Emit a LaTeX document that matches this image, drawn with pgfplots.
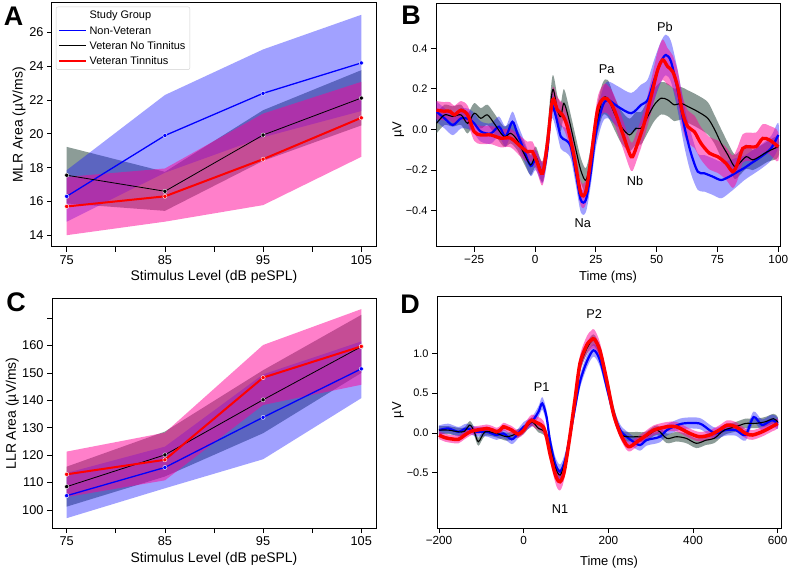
\documentclass[border=0pt]{standalone}
\usepackage{pgfplots}
\pgfplotsset{compat=1.18}
\usepackage{pgfplotstable}
\usepackage{fontspec}
\setmainfont{Liberation Sans}
\definecolor{cblue}{RGB}{0,0,255}
\definecolor{cband}{RGB}{20,20,255}
\definecolor{cpink}{RGB}{255,0,150}
\definecolor{cgray}{RGB}{45,75,65}
\definecolor{cred}{RGB}{255,0,0}
\newcommand\fLeg{\fontsize{11}{13}\selectfont}
\newcommand\lst{\rule[-2.6bp]{0pt}{11.2bp}}
\newcommand\fPk{\fontsize{12.8}{15}\selectfont}
\pgfplotsset{legend image code/.code={\draw[#1] (0bp,0bp) -- (27bp,0bp);}}

\pgfplotstableread{
x y e
-40.5 0.095 0.045
-37.5 0.09 0.045
-35 0.09 0.045
-33.2 0.072 0.045
-30.4 0.095 0.045
-27.7 0.072 0.045
-25 -0.011 0.045
-22.3 -0.027 0.045
-18.2 -0.027 0.045
-14.1 -0.043 0.045
-10 -0.043 0.045
-5.9 -0.084 0.05
-3.1 -0.11 0.05
-1.1 -0.109 0.05
1 -0.166 0.05
3.1 -0.216 0.06
5.1 -0.068 0.06
7.2 0.146 0.06
9.2 0.096 0.06
11.3 0.071 0.06
13.3 0.014 0.06
16.1 -0.134 0.06
18.8 -0.314 0.06
20.9 -0.306 0.06
22.9 -0.15 0.06
25.7 0.096 0.06
28.4 0.154 0.07
30.5 0.14 0.07
32.6 0.096 0.07
36 -0.019 0.07
38.8 -0.117 0.07
40.1 -0.134 0.07
42.2 -0.068 0.07
44.9 0.03 0.07
47.7 0.162 0.08
50.4 0.293 0.09
52.5 0.343 0.1
54.5 0.31 0.09
56.6 0.285 0.08
58.6 0.211 0.08
60.7 0.08 0.08
62.8 0.014 0.08
65.5 -0.011 0.08
68.2 -0.068 0.08
71.7 -0.117 0.08
75.1 -0.134 0.08
78.5 -0.167 0.08
81.3 -0.208 0.08
83.3 -0.167 0.08
85.4 -0.093 0.07
88.1 -0.085 0.07
90.9 -0.085 0.07
93.6 -0.044 0.07
96.4 -0.052 0.07
100 -0.085 0.07
}\Bred

\pgfplotstableread{
x y e
-40.5 0.088 0.05
-37.2 0.055 0.05
-33.8 0.022 0.05
-30.4 0.055 0.05
-27 0.05 0.05
-25 0.03 0.05
-22.3 -0.01 0.05
-18.2 -0.02 0.05
-14.8 0.014 0.05
-12.1 -0.035 0.05
-9.3 0.038 0.05
-7.3 -0.019 0.05
-4.6 -0.1 0.05
-1.8 -0.18 0.05
0.3 -0.15 0.05
3.1 -0.216 0.05
5.1 -0.1 0.05
6.8 0.113 0.06
8.6 0.063 0.06
10.6 -0.035 0.06
12.6 -0.052 0.06
14.7 -0.085 0.06
16.8 -0.216 0.06
18.8 -0.347 0.06
20.9 -0.347 0.06
22.9 -0.216 0.06
25 -0.02 0.07
27.7 0.113 0.08
29.9 0.146 0.09
34 0.113 0.1
39.5 0.08 0.1
43.6 0.121 0.1
46.3 0.146 0.1
49 0.244 0.1
51.8 0.334 0.1
53.8 0.367 0.1
55.9 0.334 0.1
58.6 0.195 0.1
61.4 0.014 0.1
64.1 -0.117 0.1
66.9 -0.208 0.09
69.6 -0.216 0.09
73 -0.232 0.09
76.5 -0.249 0.09
79.9 -0.232 0.08
83.3 -0.208 0.07
86 -0.19 0.06
88.8 -0.167 0.06
92.9 -0.134 0.06
97 -0.093 0.06
100 -0.027 0.06
}\Bblue

\pgfplotstableread{
x y e
-40.5 0.03 0.05
-37.2 0.072 0.05
-33.8 0.064 0.05
-30.4 0.072 0.05
-27.7 0.03 0.05
-25 0.08 0.05
-22.3 0.055 0.05
-19.6 0.072 0.05
-16.8 0.03 0.05
-12.8 -0.035 0.05
-10 -0.019 0.05
-7.3 -0.052 0.05
-4.6 -0.117 0.05
-1.8 -0.175 0.05
0.3 -0.134 0.05
3.1 -0.208 0.05
5.1 -0.052 0.06
7.2 0.195 0.07
9.2 0.096 0.07
10.6 0.063 0.07
11.9 0.129 0.07
14 0.047 0.06
16.8 -0.1 0.06
18.8 -0.2 0.06
20.9 -0.25 0.06
22.9 -0.15 0.06
25 0.014 0.07
27.7 0.146 0.08
29.9 0.154 0.09
32.6 0.08 0.08
35.4 0.014 0.08
38.8 -0.027 0.08
41.5 0.006 0.08
43.6 0.006 0.08
46.3 0.063 0.08
49 0.121 0.08
51.8 0.154 0.08
54.5 0.146 0.08
57.3 0.121 0.08
60 0.129 0.08
62.8 0.113 0.08
66.9 0.088 0.08
71 0.055 0.08
73.8 0.0 0.07
76.5 -0.068 0.07
79.3 -0.126 0.06
82 -0.183 0.06
84 -0.167 0.06
86.8 -0.134 0.06
89.5 -0.15 0.05
92.2 -0.134 0.05
95.6 -0.109 0.05
100 -0.085 0.05
}\Bblack

\pgfplotstableread{
x y e
-200 -0.027 0.05
-185 -0.06 0.05
-170 -0.075 0.05
-154 -0.08 0.05
-140 -0.03 0.05
-125 0.02 0.05
-111 0.036 0.05
-95 0.05 0.05
-87 0.057 0.05
-75 0.04 0.05
-64 0.015 0.05
-55 0.04 0.05
-48 0.078 0.05
-38 0.06 0.05
-28 0.036 0.05
-13 -0.014 0.05
0 0.036 0.05
10 0.12 0.06
19 0.16 0.07
27 0.14 0.08
35 0.12 0.08
46 0.078 0.08
54 -0.05 0.08
62 -0.257 0.09
74 -0.51 0.1
80 -0.59 0.11
86 -0.613 0.11
92 -0.56 0.1
98 -0.425 0.09
109 -0.047 0.08
121 0.413 0.09
133 0.874 0.1
149 1.105 0.11
160 1.17 0.12
167 1.18 0.12
180 1.04 0.1
196 0.665 0.08
212 0.246 0.07
228 -0.006 0.06
243 -0.152 0.06
252 -0.17 0.06
268 -0.11 0.06
290 -0.027 0.06
307 0.036 0.06
338 0.078 0.06
361 0.078 0.06
392 -0.005 0.06
415 -0.047 0.06
439 -0.026 0.06
462 0.036 0.06
481 0.1 0.06
501 0.078 0.06
524 -0.005 0.06
540 -0.026 0.06
563 0.015 0.06
586 0.078 0.06
600 0.12 0.06
}\Dred

\pgfplotstableread{
x y e
-200 0.036 0.06
-178 0.057 0.06
-154 0.015 0.06
-135 0.057 0.06
-111 0.015 0.06
-87 0.015 0.06
-64 -0.027 0.06
-48 -0.006 0.06
-28 -0.08 0.06
-13 -0.006 0.06
0 0.078 0.06
19 0.14 0.06
35 0.267 0.07
44 0.372 0.08
54 0.204 0.08
62 -0.09 0.08
74 -0.38 0.09
86 -0.487 0.09
98 -0.34 0.09
109 -0.047 0.08
121 0.31 0.08
133 0.644 0.08
149 0.895 0.08
165 1.04 0.08
180 0.916 0.08
196 0.58 0.07
212 0.246 0.07
228 0.036 0.07
243 -0.047 0.07
259 -0.11 0.07
275 -0.152 0.07
290 -0.09 0.07
306 -0.07 0.07
322 -0.047 0.07
338 0.036 0.07
354 0.078 0.07
377 0.12 0.07
415 0.12 0.07
439 0.036 0.07
454 -0.005 0.07
477 0.036 0.07
501 0.036 0.07
524 -0.026 0.07
543 0.2 0.07
563 0.1 0.07
586 0.16 0.07
600 0.12 0.07
}\Dblue

\pgfplotstableread{
x y e
-200 0.036 0.05
-178 0.036 0.05
-154 0.015 0.05
-140 0.02 0.05
-127 0.099 0.05
-117 0.02 0.05
-107 -0.11 0.05
-91 0.015 0.05
-64 -0.006 0.05
-40 -0.047 0.05
-17 -0.01 0.05
0 0.036 0.05
19 0.14 0.05
35 0.057 0.05
50 0.015 0.05
62 -0.173 0.06
74 -0.425 0.07
86 -0.53 0.07
98 -0.36 0.07
109 -0.006 0.07
121 0.413 0.07
133 0.83 0.07
149 1.06 0.07
165 1.17 0.07
180 1.02 0.07
196 0.665 0.07
212 0.288 0.06
229 -0.005 0.06
245 -0.047 0.06
268 -0.047 0.06
288 -0.047 0.06
315 0.036 0.06
338 -0.068 0.06
361 -0.047 0.06
384 -0.068 0.06
408 -0.13 0.06
431 -0.09 0.06
450 -0.068 0.06
474 0.036 0.06
501 0.078 0.06
524 0.12 0.06
547 0.12 0.06
570 0.14 0.06
590 0.18 0.06
600 0.14 0.06
}\Dblack

% band polygons: upper edge forward, lower edge backward
\newcommand\makeband[3]{%
  \pgfplotstablesort[sort key=x, sort cmp=float <]{#2}{#1}%
  \pgfplotstablecreatecol[expr={\thisrow{y}+\thisrow{e}}]{v}{#2}%
  \pgfplotstablesort[sort key=x, sort cmp=float >]{#3}{#1}%
  \pgfplotstablecreatecol[expr={\thisrow{y}-\thisrow{e}}]{v}{#3}%
  \pgfplotstablevertcat{#2}{#3}%
}
\makeband{\Bred}{\BredP}{\BredL}
\makeband{\Bblue}{\BblueP}{\BblueL}
\makeband{\Bblack}{\BblackP}{\BblackL}
\makeband{\Dred}{\DredP}{\DredL}
\makeband{\Dblue}{\DblueP}{\DblueL}
\makeband{\Dblack}{\DblackP}{\DblackL}

\pgfplotsset{
  panel/.style={
    scale only axis, anchor=south west,
    axis line style={line width=1bp},
    tick style={black, line width=0.8bp},
    major tick length=5bp, tick align=outside,
    xtick pos=left, ytick pos=left,
    /pgf/number format/assume math mode=true,
  },
  small/.style={
    tick label style={font=\fontsize{12.8}{15}\selectfont},
    label style={font=\fontsize{14}{16}\selectfont},
  },
  wave/.style={
    xticklabel style={font=\fontsize{11.8}{14}\selectfont},
    yticklabel style={font=\fontsize{11}{13}\selectfont},
    label style={font=\fontsize{13}{15}\selectfont},
  },
  mk/.style={mark=*, mark size=2.1bp, mark options={fill=#1, draw=white, line width=0.4bp}},
}

\begin{document}
\begin{tikzpicture}
\useasboundingbox (0,0) rectangle (789bp,570bp);

% ---------------- Panel A ----------------
\begin{axis}[panel, small, at={(52bp,323bp)}, width=324bp, height=244bp,
  xmin=73.5, xmax=106.5, ymin=13.3, ymax=27.75,
  xtick={75,80,...,105}, xticklabels={75,,85,,95,,105},
  ytick={14,16,...,26}, yticklabels={14,16,18,20,22,24,26},
  xlabel={Stimulus Level (dB peSPL)}, ylabel={MLR Area (µV/ms)},
  xlabel style={at={(axis description cs:0.5,-0.122)}, anchor=center},
  ylabel style={at={(axis description cs:-0.102,0.5)}, anchor=center},
  legend cell align=left,
  legend style={at={(0.012,0.985)}, anchor=north west, draw=black!18, rounded corners=2bp,
    fill=white, font=\fLeg, row sep=0.8bp, inner xsep=2bp, inner ysep=1.2bp,
    nodes={inner ysep=2.2bp, inner xsep=2.5bp}},
]
\addlegendimage{empty legend}\addlegendentry{\fLeg\lst Study Group}
\addlegendimage{cblue, line width=1.3bp}\addlegendentry{\fLeg\lst Non-Veteran}
\addlegendimage{black, line width=0.8bp}\addlegendentry{\fLeg\lst Veteran No Tinnitus}
\addlegendimage{cred, line width=2bp}\addlegendentry{\fLeg\lst Veteran Tinnitus}
\addplot[draw=none, fill=cgray, fill opacity=0.55, forget plot] coordinates {(75,19.23)(85,17.75)(95,21.4)(105,23.77)(105,20.5)(95,18.4)(85,15.44)(75,15.88)} --cycle;
\addplot[draw=none, fill=cband, fill opacity=0.4, forget plot] coordinates {(75,17.85)(85,22.3)(95,25.0)(105,27.05)(105,21.35)(95,19.8)(85,17.7)(75,14.8)} --cycle;
\addplot[draw=none, fill=cpink, fill opacity=0.5, forget plot] coordinates {(75,17.45)(85,17.95)(95,21.2)(105,23.08)(105,18.64)(95,15.78)(85,14.8)(75,14.0)} --cycle;
\addplot[cblue, line width=1.3bp, mk=cblue, forget plot] coordinates {(75,16.3)(85,19.9)(95,22.4)(105,24.2)};
\addplot[black, line width=0.8bp, mk=black, forget plot] coordinates {(75,17.55)(85,16.6)(95,19.93)(105,22.12)};
\addplot[cred, line width=2bp, mk=cred, forget plot] coordinates {(75,15.7)(85,16.3)(95,18.5)(105,20.95)};
\end{axis}

% ---------------- Panel C ----------------
\begin{axis}[panel, small, at={(52bp,42bp)}, width=324bp, height=229bp,
  xmin=73.5, xmax=106.5, ymin=93.4, ymax=177,
  xtick={75,80,...,105}, xticklabels={75,,85,,95,,105},
  ytick={100,110,...,170}, yticklabels={100,110,120,130,140,150,160,},
  xlabel={Stimulus Level (dB peSPL)}, ylabel={LLR Area (µV/ms)},
  xlabel style={at={(axis description cs:0.5,-0.137)}, anchor=center},
  ylabel style={at={(axis description cs:-0.1225,0.5)}, anchor=center},
]
\addplot[draw=none, fill=cgray, fill opacity=0.55] coordinates {(75,115.8)(85,128.6)(95,151)(105,171.2)(105,150)(95,128)(85,112.2)(75,101.2)} --cycle;
\addplot[draw=none, fill=cband, fill opacity=0.4] coordinates {(75,113.5)(85,123.1)(95,149.5)(105,161.5)(105,140.8)(95,118.5)(85,107.9)(75,97)} --cycle;
\addplot[draw=none, fill=cpink, fill opacity=0.5] coordinates {(75,121.3)(85,128.2)(95,160.2)(105,173.3)(105,145.7)(95,138.3)(85,110.8)(75,104.7)} --cycle;
\addplot[cblue, line width=1.3bp, mk=cblue] coordinates {(75,105.2)(85,115.5)(95,133.8)(105,151.5)};
\addplot[black, line width=0.8bp, mk=black] coordinates {(75,108.5)(85,120.1)(95,140.2)(105,159.6)};
\addplot[cred, line width=2bp, mk=cred] coordinates {(75,113.0)(85,118.3)(95,148.3)(105,159.7)};
\end{axis}

% ---------------- Panel B ----------------
\begin{axis}[panel, wave, at={(436bp,323bp)}, width=344bp, height=244bp,
  xmin=-40.7, xmax=100.7, ymin=-0.579, ymax=0.623,
  xtick={-25,0,25,50,75,100}, xticklabels={−25,0,25,50,75,100},
  ytick={-0.4,-0.2,0,0.2,0.4}, yticklabels={−0.4,−0.2,0.0,0.2,0.4},
  xlabel={Time (ms)}, ylabel={µV},
  xlabel style={at={(axis description cs:0.5,-0.122)}, anchor=center},
  ylabel style={at={(axis description cs:-0.11,0.48)}, anchor=center},
]
\addplot[draw=none, fill=cgray, fill opacity=0.55, smooth, tension=0.5] table[x=x, y=v] {\BblackP} --cycle;
\addplot[draw=none, fill=cband, fill opacity=0.4, smooth, tension=0.5] table[x=x, y=v] {\BblueP} --cycle;
\addplot[draw=none, fill=cpink, fill opacity=0.5, smooth, tension=0.5] table[x=x, y=v] {\BredP} --cycle;
\addplot[cblue, line width=2.2bp, smooth] table[x=x, y=y] {\Bblue};
\addplot[black, line width=1.1bp, smooth] table[x=x, y=y] {\Bblack};
\addplot[cred, line width=3.3bp, smooth] table[x=x, y=y] {\Bred};
\node[font=\fPk] at (axis cs:29.5,0.298) {Pa};
\node[font=\fPk] at (axis cs:53.4,0.505) {Pb};
\node[font=\fPk] at (axis cs:19.6,-0.46) {Na};
\node[font=\fPk] at (axis cs:41.1,-0.254) {Nb};
\end{axis}

% ---------------- Panel D ----------------
\begin{axis}[panel, wave, at={(437bp,42bp)}, width=344bp, height=231bp,
  xmin=-204.7, xmax=607.8, ymin=-1.195, ymax=1.71,
  xtick={-200,0,200,400,600}, xticklabels={−200,0,200,400,600},
  ytick={-0.5,0,0.5,1}, yticklabels={−0.5,0.0,0.5,1.0},
  xlabel={Time (ms)}, ylabel={µV},
  xlabel style={at={(axis description cs:0.5,-0.146)}, anchor=center},
  ylabel style={at={(axis description cs:-0.113,0.51)}, anchor=center},
]
\addplot[draw=none, fill=cgray, fill opacity=0.55, smooth, tension=0.5] table[x=x, y=v] {\DblackP} --cycle;
\addplot[draw=none, fill=cband, fill opacity=0.4, smooth, tension=0.5] table[x=x, y=v] {\DblueP} --cycle;
\addplot[draw=none, fill=cpink, fill opacity=0.5, smooth, tension=0.5] table[x=x, y=v] {\DredP} --cycle;
\addplot[cblue, line width=2.2bp, smooth] table[x=x, y=y] {\Dblue};
\addplot[black, line width=1.1bp, smooth] table[x=x, y=y] {\Dblack};
\addplot[cred, line width=3.5bp, smooth] table[x=x, y=y] {\Dred};
\node[font=\fPk] at (axis cs:166.7,1.49) {P2};
\node[font=\fPk] at (axis cs:42.5,0.573) {P1};
\node[font=\fPk] at (axis cs:85.7,-0.96) {N1};
\end{axis}

% panel letters
\node[font=\bfseries\fontsize{27}{30}\selectfont, inner sep=0pt] at (13.5bp,553.5bp) {A};
\node[font=\bfseries\fontsize{27}{30}\selectfont, inner sep=0pt] at (411bp,555bp) {B};
\node[font=\bfseries\fontsize{27}{30}\selectfont, inner sep=0pt] at (16bp,267.5bp) {C};
\node[font=\bfseries\fontsize{27}{30}\selectfont, inner sep=0pt] at (410bp,266bp) {D};
\end{tikzpicture}
\end{document}
